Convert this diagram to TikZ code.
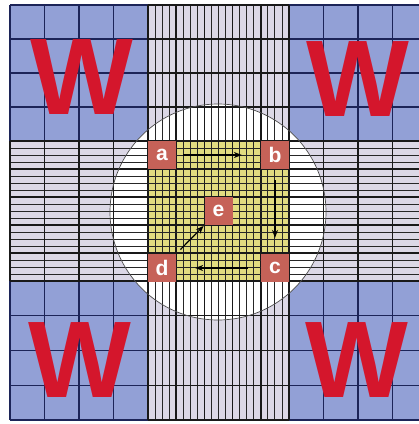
\documentclass[tikz,border=0pt]{standalone}
\usepackage{fontspec}
\setmainfont{Liberation Sans}
\usetikzlibrary{arrows.meta, positioning}

\definecolor{wblue}{RGB}{146,160,214}
\definecolor{wnavy}{RGB}{28,36,88}
\definecolor{striplav}{RGB}{220,216,230}
\definecolor{cellyel}{RGB}{226,220,128}
\definecolor{sqred}{RGB}{198,98,88}
\definecolor{wred}{RGB}{212,22,44}

% fine lines of the middle column / middle row
\newcommand{\vfine}[2]{%
  \foreach \k in {0,...,20} \draw[fineln] ({148+7.05*\k},#1) -- ({148+7.05*\k},#2);
  \foreach \k in {0,4,...,20} \draw[majorln] ({148+7.05*\k},#1) -- ({148+7.05*\k},#2);}
\newcommand{\hfine}[2]{%
  \foreach \k in {0,...,20} \draw[fineln] (#1,{141+7*\k}) -- (#2,{141+7*\k});
  \foreach \k in {0,4,...,20} \draw[majorln] (#1,{141+7*\k}) -- (#2,{141+7*\k});}
\newcommand{\striplines}{%
  \vfine{5}{141}\vfine{281}{420}
  \hfine{10}{148}\hfine{289}{427}
  \foreach \y in {5,39,73,107,141,281,315.75,350.5,385.25,420}
    \draw[majorln] (148,\y) -- (289,\y);
  \foreach \x in {10,44.5,79,113.5,148,289,323.5,358,392.5,427}
    \draw[majorln] (\x,141) -- (\x,281);}

\begin{document}
\begin{tikzpicture}[x=0.5mm, y=-0.5mm,
  fineln/.style={line width=1.2pt, black!85},
  majorln/.style={line width=2pt, black!90},
  blueln/.style={line width=1.6pt, wnavy},
  sq/.style={rectangle, fill=sqred, minimum size=14mm, inner sep=0pt,
             text=white, font=\fontsize{30}{30}\selectfont\bfseries},
  wlet/.style={inner sep=0pt, text=wred, font=\fontsize{155}{155}\selectfont\bfseries},
  arr/.style={-{Stealth[length=4mm, width=3mm]}, line width=1.7pt, black}
]
  \useasboundingbox (0,0) rectangle (419,424);
  \clip (0,0) rectangle (419,424);
  \fill[white] (0,0) rectangle (419,424);

  % blue corners
  \fill[wblue] (10,5) rectangle (148,141);
  \fill[wblue] (289,5) rectangle (427,141);
  \fill[wblue] (10,281) rectangle (148,420);
  \fill[wblue] (289,281) rectangle (427,420);
  \foreach \x in {10,44.5,79,113.5,148,289,323.5,358,392.5,427}
    \draw[blueln] (\x,5) -- (\x,141) (\x,281) -- (\x,420);
  \foreach \y in {5,39,73,107,141,281,315.75,350.5,385.25,420}
    \draw[blueln] (10,\y) -- (148,\y) (289,\y) -- (427,\y);

  % strips
  \fill[striplav] (148,5) rectangle (289,141);
  \fill[striplav] (148,281) rectangle (289,420);
  \fill[striplav] (10,141) rectangle (148,281);
  \fill[striplav] (289,141) rectangle (427,281);
  \striplines

  % circle and centre cell
  \coordinate (cen) at (218,212);
  \fill[white] (cen) circle[radius=108];
  \begin{scope}
    \clip (cen) circle[radius=108];
    \striplines
    \fill[cellyel] (148,141) rectangle (289,281);
    \vfine{141}{281}
    \hfine{148}{289}
  \end{scope}
  \draw[line width=1pt, black!70] (cen) circle[radius=108];

  % letters
  \node[sq] (a) at (162,155) {a};
  \node[sq] (b) at (275,155) {b};
  \node[sq] (c) at (275,268) {c};
  \node[sq] (d) at (162,268) {d};
  \node[sq] (e) at (218.5,211) {e};

  \node[wlet] (wnw) at (82,77) {W};
  \node[wlet] (wne) at (358,79) {W};
  \node[wlet] (wsw) at (80,360) {W};
  \node[wlet] (wse) at (357,360) {W};

  \draw[arr, shorten <=3.5mm, shorten >=9.5mm] (a) -- (b);
  \draw[arr, shorten <=5.5mm, shorten >=8mm] (b) -- (c);
  \draw[arr, shorten <=6.5mm, shorten >=9.5mm] (c) -- (d);
  \draw[arr, shorten <=3mm, shorten >=0.5mm] (d.north east) -- (e.south west);
\end{tikzpicture}
\end{document}
